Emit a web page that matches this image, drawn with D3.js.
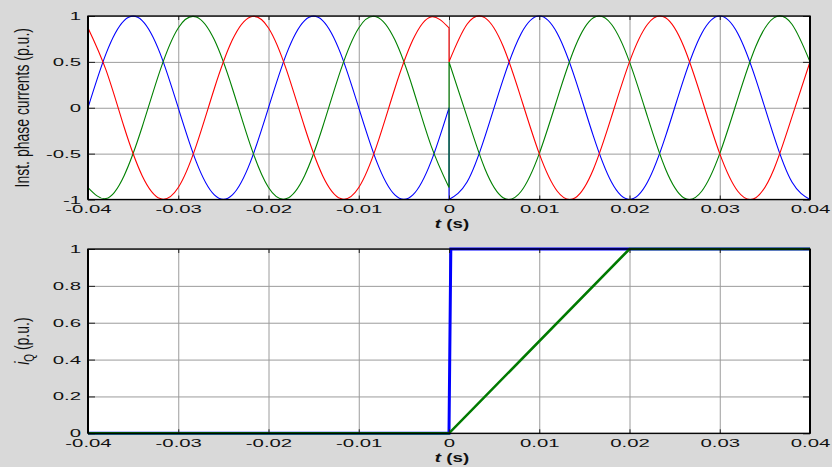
<!DOCTYPE html>
<html>
<head>
<meta charset="utf-8">
<script src="https://cdn.jsdelivr.net/npm/d3@7"></script>
<style>
  body { margin: 0; background: #d9d9d9; }
  svg { display: block; font-family: "Liberation Sans", Arial, sans-serif; }
</style>
</head>
<body>
<div id="chart"></div>
<script>
// ---- data ----
// time samples (s) before and after the switching instant
const tPre  = [-0.040,-0.038,-0.036,-0.034,-0.032,-0.030,-0.028,-0.026,-0.024,-0.022,
               -0.020,-0.018,-0.016,-0.014,-0.012,-0.010,-0.008,-0.006,-0.004,-0.002,0];
const tPost = [0,0.002,0.004,0.006,0.008,0.010,0.012,0.014,0.016,0.018,
               0.020,0.022,0.024,0.026,0.028,0.030,0.032,0.034,0.036,0.038,0.040];

// instantaneous phase currents (p.u.)
const bluePre   = [0,.59,.95,.95,.59,0,-.59,-.95,-.95,-.59,0,.59,.95,.95,.59,0,-.59,-.95,-.95,-.59,0];
const greenPre  = [-.87,-.99,-.74,-.21,.41,.87,.99,.74,.21,-.41,-.87,-.99,-.74,-.21,.41,.87,.99,.74,.21,-.41,-.87];
const redPre    = [.87,.41,-.21,-.74,-.99,-.87,-.41,.21,.74,.99,.87,.41,-.21,-.74,-.99,-.87,-.41,.21,.74,.99,.87];
const bluePost  = [-1,-.81,-.31,.31,.81,1,.81,.31,-.31,-.81,-1,-.81,-.31,.31,.81,1,.81,.31,-.31,-.81,-1];
const greenPost = [.5,-.1,-.67,-.98,-.91,-.5,.1,.67,.98,.91,.5,-.1,-.67,-.98,-.91,-.5,.1,.67,.98,.91,.5];
const redPost   = [.5,.91,.98,.67,.1,-.5,-.91,-.98,-.67,-.1,.5,.91,.98,.67,.1,-.5,-.91,-.98,-.67,-.1,.5];

// iQ (p.u.)
const iqBlueT  = [-0.04, 0, 0.0002, 0.04];
const iqBlue   = [0, 0, 1, 1];
const iqGreenT = [-0.04, 0, 0.02, 0.04];
const iqGreen  = [0, 0, 1, 1];

// ticks
const xTicks = [-0.04,-0.03,-0.02,-0.01,0,0.01,0.02,0.03,0.04];
const xTickLabels = ['-0.04','-0.03','-0.02','-0.01','0','0.01','0.02','0.03','0.04'];
const yTicksTop = [-1,-0.5,0,0.5,1];
const yTickLabelsTop = ['-1','-0.5','0','0.5','1'];
const yTicksBot = [0,0.2,0.4,0.6,0.8,1];
const yTickLabelsBot = ['0','0.2','0.4','0.6','0.8','1'];

// ---- layout ----
const W = 832, H = 467;
const left = 88, right = 810;
const p1 = { top: 16, bottom: 199.5 };
const p2 = { top: 249, bottom: 433.3 };
const sx = 1.85;           // horizontal stretch of the original figure text
const gridColor = '#9c9c9c';

const svg = d3.select('#chart').append('svg')
  .attr('width', W).attr('height', H);
svg.append('rect').attr('width', W).attr('height', H).attr('fill', '#d9d9d9');

const x = d3.scaleLinear().domain([-0.04, 0.04]).range([left, right]);
const y1 = d3.scaleLinear().domain([-1, 1]).range([p1.bottom, p1.top]);
const y2 = d3.scaleLinear().domain([0, 1]).range([p2.bottom, p2.top]);

function stretchText(sel, k) {
  sel.each(function() {
    const t = d3.select(this);
    const tx = +t.attr('x') || 0;
    t.attr('x', 0).attr('transform', 'translate(' + tx + ',0) scale(' + k + ',1)');
  });
}

function panelBase(p, y, yTicks) {
  svg.append('rect')
    .attr('x', left).attr('y', p.top)
    .attr('width', right - left).attr('height', p.bottom - p.top)
    .attr('fill', '#fff');

  const gx = svg.append('g')
    .attr('transform', 'translate(0,' + p.bottom + ')')
    .call(d3.axisBottom(x).tickValues(xTicks).tickSize(-(p.bottom - p.top)).tickFormat(''));
  const gy = svg.append('g')
    .attr('transform', 'translate(' + left + ',0)')
    .call(d3.axisLeft(y).tickValues(yTicks).tickSize(-(right - left)).tickFormat(''));
  [gx, gy].forEach(g => {
    g.select('.domain').remove();
    g.selectAll('line').attr('stroke', gridColor).attr('stroke-width', 1);
  });
}

function panelFrame(p, y, yTicks, yLabels) {
  const fmtX = (d, i) => xTickLabels[i];
  const fmtY = (d, i) => yLabels[i];

  const bx = svg.append('g')
    .attr('transform', 'translate(0,' + p.bottom + ')')
    .call(d3.axisBottom(x).tickValues(xTicks).tickFormat(fmtX).tickSizeInner(-4).tickSizeOuter(0));
  bx.selectAll('text').attr('y', 14).attr('dy', null);
  stretchText(bx.selectAll('text'), sx);

  const tx = svg.append('g')
    .attr('transform', 'translate(0,' + p.top + ')')
    .call(d3.axisTop(x).tickValues(xTicks).tickFormat('').tickSizeInner(-4).tickSizeOuter(0));

  const ly = svg.append('g')
    .attr('transform', 'translate(' + left + ',0)')
    .call(d3.axisLeft(y).tickValues(yTicks).tickFormat(fmtY).tickSizeInner(-7).tickSizeOuter(0).tickPadding(7));
  stretchText(ly.selectAll('text'), sx);

  const ry = svg.append('g')
    .attr('transform', 'translate(' + right + ',0)')
    .call(d3.axisRight(y).tickValues(yTicks).tickFormat('').tickSizeInner(-7).tickSizeOuter(0));

  [bx, tx, ly, ry].forEach(g => {
    g.select('.domain').remove();
    g.selectAll('line').attr('stroke', '#222');
    g.selectAll('text').attr('font-size', 11).attr('fill', '#111')
      .attr('font-family', '"Liberation Sans", Arial, sans-serif');
  });

  // box
  svg.append('rect')
    .attr('x', left).attr('y', p.top)
    .attr('width', right - left).attr('height', p.bottom - p.top)
    .attr('fill', 'none').attr('stroke', '#000').attr('stroke-width', 1.3);
  svg.append('line').attr('x1', left).attr('x2', left)
    .attr('y1', p.top).attr('y2', p.bottom).attr('stroke', '#000').attr('stroke-width', 2);
  svg.append('line').attr('x1', right).attr('x2', right)
    .attr('y1', p.top).attr('y2', p.bottom).attr('stroke', '#000').attr('stroke-width', 2);

  // x axis title "t (s)"
  const xt = svg.append('text')
    .attr('transform', 'translate(452,' + (p.bottom + 28.5) + ') scale(1.5,1)')
    .attr('text-anchor', 'middle')
    .attr('font-size', 12.5).attr('font-weight', 'bold').attr('fill', '#111');
  xt.append('tspan').attr('font-style', 'italic').text('t');
  xt.append('tspan').text(' (s)');
}

// ---- top panel ----
panelBase(p1, y1, yTicksTop);

const smooth = d3.line().x(d => x(d[0])).y(d => y1(d[1])).curve(d3.curveNatural);
function phasePath(pre, post) {
  const a = smooth(tPre.map((t, i) => [t, pre[i]]));
  const b = smooth(tPost.map((t, i) => [t, post[i]]));
  return a + 'L' + b.slice(1);
}
const phases = [
  { pre: bluePre,  post: bluePost,  color: '#0000ff' },
  { pre: greenPre, post: greenPost, color: '#008000' },
  { pre: redPre,   post: redPost,   color: '#ff0000' }
];
svg.append('g').selectAll('path').data(phases).enter().append('path')
  .attr('d', d => phasePath(d.pre, d.post))
  .attr('fill', 'none')
  .attr('stroke', d => d.color)
  .attr('stroke-width', 1.1);

panelFrame(p1, y1, yTicksTop, yTickLabelsTop);

svg.append('text')
  .attr('transform', 'translate(29,' + ((p1.top + p1.bottom) / 2) + ') scale(1.5,1) rotate(-90)')
  .attr('text-anchor', 'middle')
  .attr('font-size', 14).attr('fill', '#111')
  .text('Inst. phase currents (p.u.)');

// ---- bottom panel ----
panelBase(p2, y2, yTicksBot);

const straight = d3.line().x(d => x(d[0])).y(d => y2(d[1]));
const iqSeries = [
  { t: iqBlueT,  v: iqBlue,  color: '#0000ff', w: 3 },
  { t: iqGreenT, v: iqGreen, color: '#007a00', w: 2.6 }
];
svg.append('g').selectAll('path').data(iqSeries).enter().append('path')
  .attr('d', d => straight(d.t.map((t, i) => [t, d.v[i]])))
  .attr('fill', 'none')
  .attr('stroke', d => d.color)
  .attr('stroke-width', d => d.w);

panelFrame(p2, y2, yTicksBot, yTickLabelsBot);

const yl2 = svg.append('text')
  .attr('transform', 'translate(29,' + ((p2.top + p2.bottom) / 2) + ') scale(1.5,1) rotate(-90)')
  .attr('text-anchor', 'middle')
  .attr('font-size', 14).attr('fill', '#111');
yl2.append('tspan').attr('font-style', 'italic').text('i');
yl2.append('tspan').attr('font-size', 10).attr('dy', 3).text('Q');
yl2.append('tspan').attr('dy', -3).text(' (p.u.)');
</script>
</body>
</html>
